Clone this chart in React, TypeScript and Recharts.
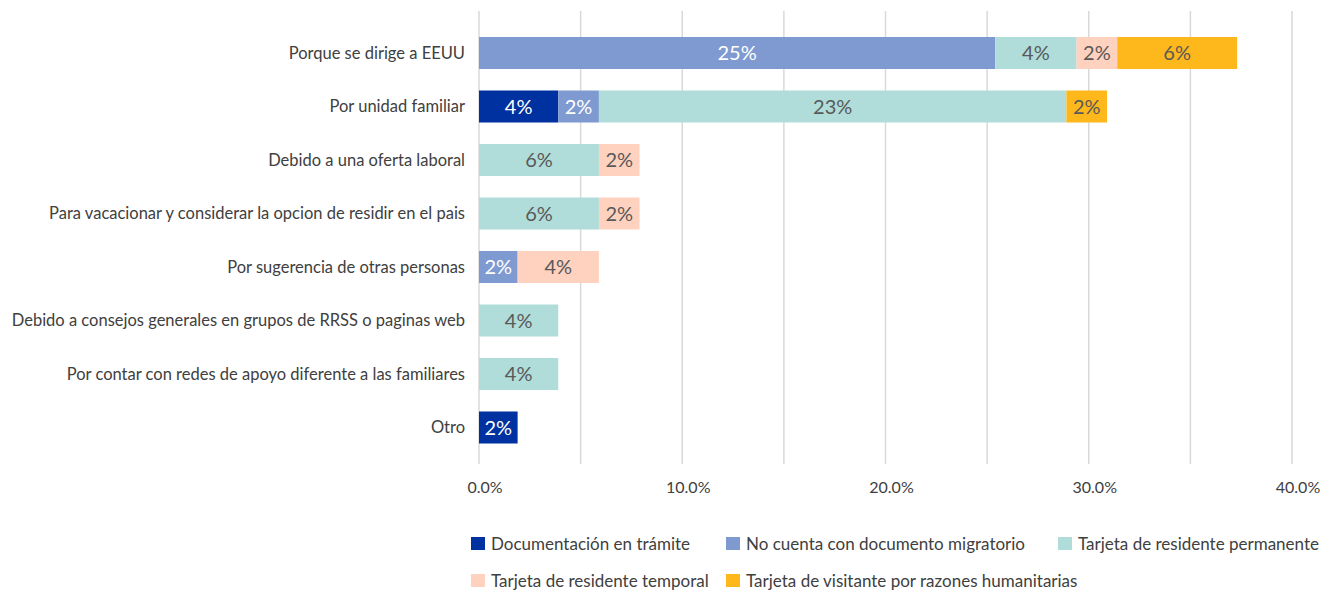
import React from 'react';
import { BarChart, Bar, XAxis, YAxis, CartesianGrid, Legend, LabelList } from 'recharts';

// Motivos de elección del país según situación migratoria
const categories = [
  'Porque se dirige a EEUU',
  'Por unidad familiar',
  'Debido a una oferta laboral',
  'Para vacacionar y considerar la opcion de residir en el pais',
  'Por sugerencia de otras personas',
  'Debido a consejos generales en grupos de RRSS o paginas web',
  'Por contar con redes de apoyo diferente a las familiares',
  'Otro',
];

const documentacion = [null, 3.9, null, null, null, null, null, 1.9];
const noCuenta = [25.4, 2.0, null, null, 1.9, null, null, null];
const permanente = [4.0, 23.0, 5.9, 5.9, null, 3.9, 3.9, null];
const temporal = [2.0, null, 2.0, 2.0, 4.0, null, null, null];
const humanitarias = [5.9, 2.0, null, null, null, null, null, null];

const xTicks = [0, 5, 10, 15, 20, 25, 30, 35, 40];

const series = [
  { key: 'doc', name: 'Documentación en trámite', values: documentacion, color: '#0031A0', text: '#FFFFFF' },
  { key: 'nocuenta', name: 'No cuenta con documento migratorio', values: noCuenta, color: '#7F9AD1', text: '#FFFFFF' },
  { key: 'perm', name: 'Tarjeta de residente permanente', values: permanente, color: '#B0DDD9', text: '#595959' },
  { key: 'temp', name: 'Tarjeta de residente temporal', values: temporal, color: '#FFD1BF', text: '#595959' },
  { key: 'hum', name: 'Tarjeta de visitante por razones humanitarias', values: humanitarias, color: '#FFB81C', text: '#595959' },
];

const data = categories.map((name, i) => {
  const row: any = { name };
  series.forEach(s => { row[s.key] = s.values[i]; });
  return row;
});

const FONT = 'Lato, "Open Sans", sans-serif';

const fmtLabel = (v: any) => (v == null || v === 0 ? '' : `${Math.round(v)}%`);

const CustomLegend = () => (
  <div
    style={{
      display: 'grid',
      gridTemplateColumns: '255px 332px 270px',
      paddingLeft: 463,
      fontFamily: FONT,
      fontSize: 17,
      color: '#404040',
    }}
  >
    {series.map(s => (
      <div key={s.key} style={{ display: 'flex', alignItems: 'center', height: 37, whiteSpace: 'nowrap' }}>
        <span style={{ display: 'inline-block', flexShrink: 0, width: 14, height: 13, background: s.color, marginRight: 6 }} />
        <span>{s.name}</span>
      </div>
    ))}
  </div>
);

export default function App() {
  return (
    <div style={{ width: 1314, height: 587, fontFamily: FONT }}>
      <BarChart
        layout="vertical"
        width={1314}
        height={587}
        data={data}
        margin={{ top: 3, right: 30, left: 0, bottom: 0 }}
        barSize={32}
      >
        <CartesianGrid horizontal={false} stroke="#D9D9D9" strokeWidth={1.5} />
        <XAxis
          type="number"
          domain={[0, 40]}
          ticks={xTicks}
          interval={0}
          tickFormatter={(v: number) => (v % 10 === 0 ? `${v.toFixed(1)}%` : '')}
          axisLine={false}
          tickLine={false}
          tickSize={0}
          tickMargin={18}
          height={61}
          tick={{ fill: '#404040', fontSize: 16, fontFamily: FONT, dx: 6 }}
        />
        <YAxis
          type="category"
          dataKey="name"
          width={471}
          axisLine={false}
          tickLine={false}
          tickSize={0}
          tickMargin={14}
          padding={{ top: 15, bottom: 10 }}
          interval={0}
          tick={{ fill: '#404040', fontSize: 16.5, fontFamily: FONT }}
        />
        <Legend verticalAlign="bottom" height={70} content={<CustomLegend />} />
        {series.map(s => (
          <Bar key={s.key} dataKey={s.key} name={s.name} stackId="a" fill={s.color} isAnimationActive={false}>
            <LabelList
              dataKey={s.key}
              position="center"
              formatter={fmtLabel}
              fill={s.text}
              style={{ fontSize: 20, fontFamily: FONT }}
            />
          </Bar>
        ))}
      </BarChart>
    </div>
  );
}
